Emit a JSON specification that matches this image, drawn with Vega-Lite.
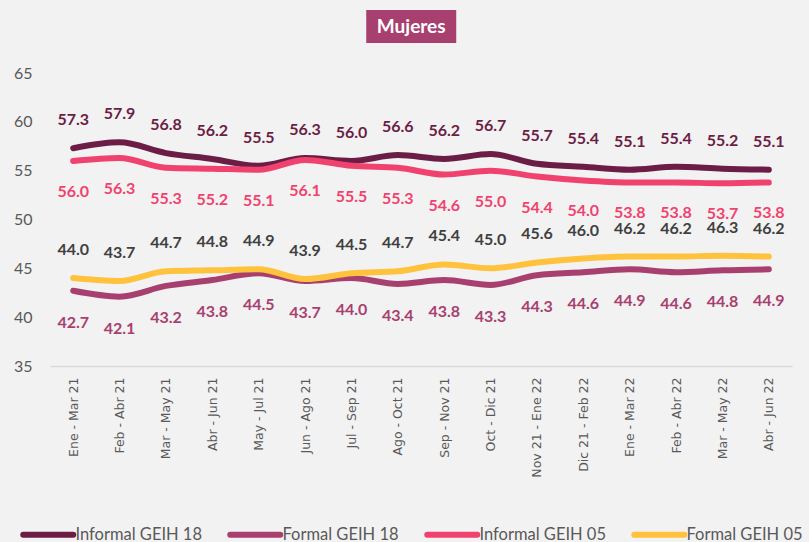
{
  "$schema": "https://vega.github.io/schema/vega-lite/v6.json",
  "background": "#f2f2f2",
  "padding": {"left": 13, "top": 10, "right": 6, "bottom": 0},
  "config": {"view": {"stroke": null}, "concat": {"spacing": 22}},
  "center": true,
  "datasets": {
    "rows": [
      {"period": "Ene - Mar 21", "series": "Informal GEIH 18", "value": 57.3},
      {"period": "Feb - Abr 21", "series": "Informal GEIH 18", "value": 57.9},
      {"period": "Mar - May 21", "series": "Informal GEIH 18", "value": 56.8},
      {"period": "Abr - Jun  21", "series": "Informal GEIH 18", "value": 56.2},
      {"period": "May - Jul 21", "series": "Informal GEIH 18", "value": 55.5},
      {"period": "Jun - Ago 21", "series": "Informal GEIH 18", "value": 56.3},
      {"period": "Jul - Sep 21", "series": "Informal GEIH 18", "value": 56.0},
      {"period": "Ago - Oct 21", "series": "Informal GEIH 18", "value": 56.6},
      {"period": "Sep - Nov 21", "series": "Informal GEIH 18", "value": 56.2},
      {"period": "Oct - Dic 21", "series": "Informal GEIH 18", "value": 56.7},
      {"period": "Nov 21 - Ene 22", "series": "Informal GEIH 18", "value": 55.7},
      {"period": "Dic 21 - Feb 22", "series": "Informal GEIH 18", "value": 55.4},
      {"period": "Ene - Mar 22", "series": "Informal GEIH 18", "value": 55.1},
      {"period": "Feb - Abr 22", "series": "Informal GEIH 18", "value": 55.4},
      {"period": "Mar - May 22", "series": "Informal GEIH 18", "value": 55.2},
      {"period": "Abr - Jun  22", "series": "Informal GEIH 18", "value": 55.1},
      {"period": "Ene - Mar 21", "series": "Formal GEIH 18", "value": 42.7},
      {"period": "Feb - Abr 21", "series": "Formal GEIH 18", "value": 42.1},
      {"period": "Mar - May 21", "series": "Formal GEIH 18", "value": 43.2},
      {"period": "Abr - Jun  21", "series": "Formal GEIH 18", "value": 43.8},
      {"period": "May - Jul 21", "series": "Formal GEIH 18", "value": 44.5},
      {"period": "Jun - Ago 21", "series": "Formal GEIH 18", "value": 43.7},
      {"period": "Jul - Sep 21", "series": "Formal GEIH 18", "value": 44.0},
      {"period": "Ago - Oct 21", "series": "Formal GEIH 18", "value": 43.4},
      {"period": "Sep - Nov 21", "series": "Formal GEIH 18", "value": 43.8},
      {"period": "Oct - Dic 21", "series": "Formal GEIH 18", "value": 43.3},
      {"period": "Nov 21 - Ene 22", "series": "Formal GEIH 18", "value": 44.3},
      {"period": "Dic 21 - Feb 22", "series": "Formal GEIH 18", "value": 44.6},
      {"period": "Ene - Mar 22", "series": "Formal GEIH 18", "value": 44.9},
      {"period": "Feb - Abr 22", "series": "Formal GEIH 18", "value": 44.6},
      {"period": "Mar - May 22", "series": "Formal GEIH 18", "value": 44.8},
      {"period": "Abr - Jun  22", "series": "Formal GEIH 18", "value": 44.9},
      {"period": "Ene - Mar 21", "series": "Informal GEIH 05", "value": 56.0},
      {"period": "Feb - Abr 21", "series": "Informal GEIH 05", "value": 56.3},
      {"period": "Mar - May 21", "series": "Informal GEIH 05", "value": 55.3},
      {"period": "Abr - Jun  21", "series": "Informal GEIH 05", "value": 55.2},
      {"period": "May - Jul 21", "series": "Informal GEIH 05", "value": 55.1},
      {"period": "Jun - Ago 21", "series": "Informal GEIH 05", "value": 56.1},
      {"period": "Jul - Sep 21", "series": "Informal GEIH 05", "value": 55.5},
      {"period": "Ago - Oct 21", "series": "Informal GEIH 05", "value": 55.3},
      {"period": "Sep - Nov 21", "series": "Informal GEIH 05", "value": 54.6},
      {"period": "Oct - Dic 21", "series": "Informal GEIH 05", "value": 55.0},
      {"period": "Nov 21 - Ene 22", "series": "Informal GEIH 05", "value": 54.4},
      {"period": "Dic 21 - Feb 22", "series": "Informal GEIH 05", "value": 54.0},
      {"period": "Ene - Mar 22", "series": "Informal GEIH 05", "value": 53.8},
      {"period": "Feb - Abr 22", "series": "Informal GEIH 05", "value": 53.8},
      {"period": "Mar - May 22", "series": "Informal GEIH 05", "value": 53.7},
      {"period": "Abr - Jun  22", "series": "Informal GEIH 05", "value": 53.8},
      {"period": "Ene - Mar 21", "series": "Formal GEIH 05", "value": 44.0},
      {"period": "Feb - Abr 21", "series": "Formal GEIH 05", "value": 43.7},
      {"period": "Mar - May 21", "series": "Formal GEIH 05", "value": 44.7},
      {"period": "Abr - Jun  21", "series": "Formal GEIH 05", "value": 44.8},
      {"period": "May - Jul 21", "series": "Formal GEIH 05", "value": 44.9},
      {"period": "Jun - Ago 21", "series": "Formal GEIH 05", "value": 43.9},
      {"period": "Jul - Sep 21", "series": "Formal GEIH 05", "value": 44.5},
      {"period": "Ago - Oct 21", "series": "Formal GEIH 05", "value": 44.7},
      {"period": "Sep - Nov 21", "series": "Formal GEIH 05", "value": 45.4},
      {"period": "Oct - Dic 21", "series": "Formal GEIH 05", "value": 45.0},
      {"period": "Nov 21 - Ene 22", "series": "Formal GEIH 05", "value": 45.6},
      {"period": "Dic 21 - Feb 22", "series": "Formal GEIH 05", "value": 46.0},
      {"period": "Ene - Mar 22", "series": "Formal GEIH 05", "value": 46.2},
      {"period": "Feb - Abr 22", "series": "Formal GEIH 05", "value": 46.2},
      {"period": "Mar - May 22", "series": "Formal GEIH 05", "value": 46.3},
      {"period": "Abr - Jun  22", "series": "Formal GEIH 05", "value": 46.2}
    ]
  },
  "vconcat": [
    {
      "width": 90,
      "height": 33,
      "view": {"fill": "#a8406f", "stroke": null},
      "data": {"values": [{"t": "Mujeres"}]},
      "mark": {"type": "text", "color": "white", "font": "Lato", "fontWeight": "bold", "fontSize": 19, "baseline": "middle", "align": "center"},
      "encoding": {
        "text": {"field": "t"},
        "y": {"field": "t", "type": "nominal",
              "axis": {"orient": "right", "title": null, "domain": false, "ticks": false, "labelOpacity": 0,
                       "labelExpr": "'xxx'", "labelFont": "DejaVu Sans", "labelFontSize": 11, "labelPadding": 0}}
      }
    },
    {
      "width": 742,
      "height": 293,
      "data": {"name": "rows"},
      "encoding": {
        "x": {
          "field": "period", "type": "nominal", "sort": null,
          "scale": {"type": "point", "padding": 0.5},
          "axis": {"title": null, "labelAngle": -90, "ticks": false, "domainColor": "#d9d9d9", "domainWidth": 1.5,
                   "labelFont": "DejaVu Sans", "labelFontSize": 12.5, "labelColor": "#595959", "labelPadding": 11, "grid": false}
        },
        "y": {
          "field": "value", "type": "quantitative",
          "scale": {"domain": [35, 65], "nice": false, "zero": false},
          "axis": {"title": null, "values": [35, 40, 45, 50, 55, 60, 65], "ticks": false, "domain": false, "grid": false,
                   "labelFont": "Lato", "labelFontSize": 16, "labelColor": "#595959", "labelPadding": 18}
        }
      },
      "layer": [
        {
          "mark": {"type": "line", "interpolate": "monotone", "strokeWidth": 6, "strokeCap": "round"},
          "encoding": {
            "color": {
              "field": "series", "type": "nominal",
              "scale": {"domain": ["Informal GEIH 18", "Formal GEIH 18", "Informal GEIH 05", "Formal GEIH 05"],
                        "range": ["#6b1d45", "#a8406f", "#f0426e", "#ffc23c"]},
              "legend": {
                "title": null, "orient": "none", "legendX": -10, "legendY": 516, "direction": "horizontal", "columns": 4,
                "gridAlign": "each", "columnPadding": 16, "symbolType": "M-5,0H5", "symbolSize": 100, "symbolStrokeWidth": 6,
                "labelFont": "Lato", "labelFontSize": 16.5, "labelColor": "#595959", "labelOffset": 19, "labelLimit": 300,
                "encode": {"symbols": {"update": {"strokeCap": {"value": "round"}}}}
              }
            }
          }
        },
        {
          "transform": [{"filter": "datum.series == 'Informal GEIH 18'"}],
          "mark": {"type": "text", "dy": -28, "font": "Lato", "fontWeight": "bold", "fontSize": 16, "color": "#6b1d45"},
          "encoding": {"text": {"field": "value", "type": "quantitative", "format": ".1f"}}
        },
        {
          "transform": [{"filter": "datum.series == 'Informal GEIH 05'"}],
          "mark": {"type": "text", "dy": 31, "font": "Lato", "fontWeight": "bold", "fontSize": 16, "color": "#f0426e"},
          "encoding": {"text": {"field": "value", "type": "quantitative", "format": ".1f"}}
        },
        {
          "transform": [{"filter": "datum.series == 'Formal GEIH 05'"}],
          "mark": {"type": "text", "dy": -28, "font": "Lato", "fontWeight": "bold", "fontSize": 16, "color": "#404040"},
          "encoding": {"text": {"field": "value", "type": "quantitative", "format": ".1f"}}
        },
        {
          "transform": [{"filter": "datum.series == 'Formal GEIH 18'"}],
          "mark": {"type": "text", "dy": 32, "font": "Lato", "fontWeight": "bold", "fontSize": 16, "color": "#a8406f"},
          "encoding": {"text": {"field": "value", "type": "quantitative", "format": ".1f"}}
        }
      ]
    }
  ]
}
